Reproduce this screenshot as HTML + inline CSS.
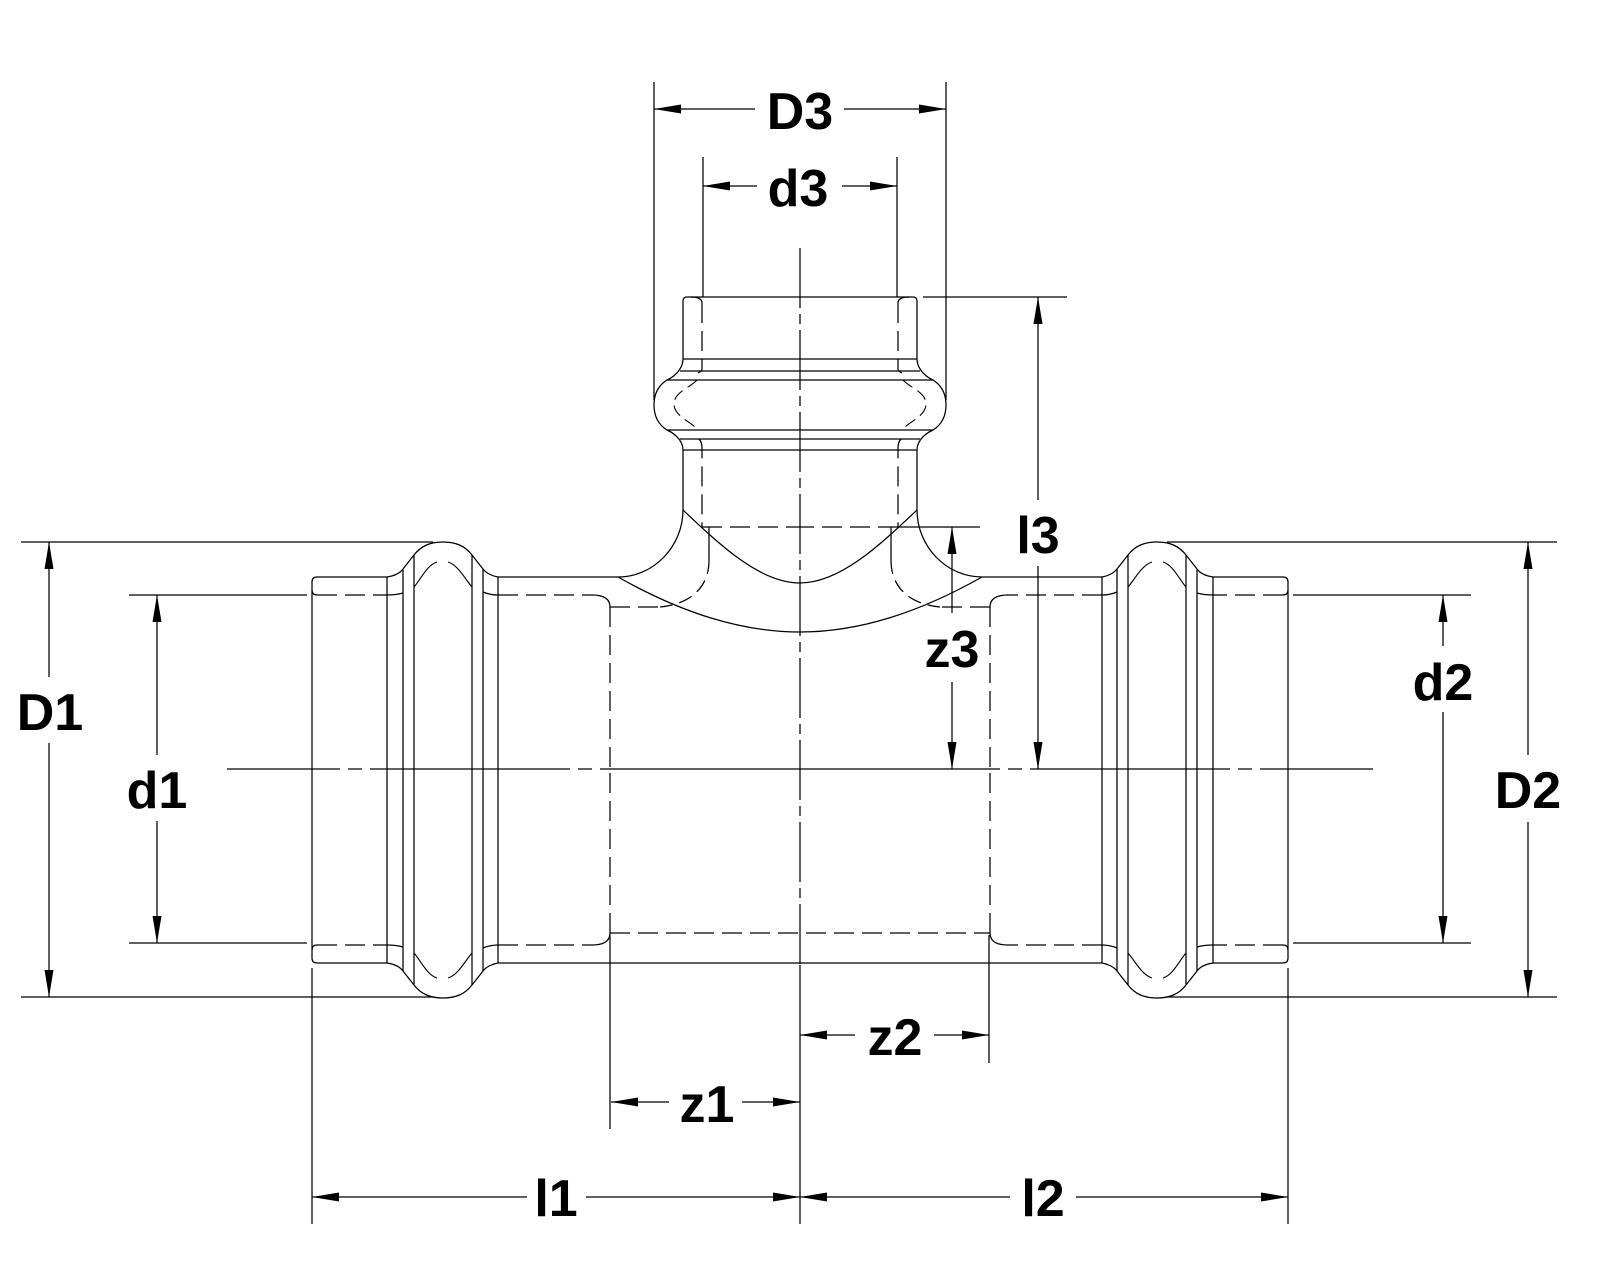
<!DOCTYPE html>
<html>
<head>
<meta charset="utf-8">
<style>
  html,body{margin:0;padding:0;background:#fff;}
  svg{display:block;}
  text{font-family:"Liberation Sans",Arial,sans-serif;font-weight:bold;font-size:52px;fill:#000;text-anchor:middle;}
</style>
</head>
<body>
<svg xmlns="http://www.w3.org/2000/svg" width="1600" height="1280" viewBox="0 0 1600 1280">
  <rect x="0" y="0" width="1600" height="1280" fill="#fff"/>
  <defs>
    <g id="q">
      <path d="M312,770 V582 Q312,577 317,577 H387"/>
      <path d="M312,590 Q312,595 317,595"/>
      <path d="M317,595 H387" stroke-dasharray="20 8"/>
      <path d="M387,595 Q396,595 403,593"/>
      <path d="M387,577 V770 M403,569 V770 M414,555 V770 M472,555 V770 M483,569 V770 M498,577 V770"/>
      <path d="M387,577 C394,576 400,573 403,569 L414,555 C421,546 430,542 443,542 C456,542 465,546 472,555 L483,569 C486,573 492,576 498,577"/>
      <path d="M414,587 C421,579 427,565 437,562 M448,562 C458,565 465,579 472,587" stroke-width="1.1"/>
      <path d="M483,592 Q490,595 498,595"/>
      <path d="M498,595 H592" stroke-dasharray="20 8"/>
      <path d="M592,595 Q610,595 610,607"/>
      <path d="M610,607 V770" stroke-dasharray="20 8"/>
    </g>
    <g id="h">
      <path d="M498,577 H618"/>
      <path d="M618,577 C654,577 683,546 683,510 V450"/>
      <path d="M683,450 C683,443 678,435 667,430 C659,425 654,417 654,405 C654,393 659,385 667,380 C678,375 683,366 683,359 V301 Q683,297 687,297 H800"/>
      <path d="M683,359 H800 M680,371 H800 M667,380 H800 M667,430 H800 M680,439 H800 M683,450 H800"/>
      <path d="M683,510 C720,545 760,583 800,583"/>
      <path d="M618,577 C680,612 740,632 800,632"/>
      <path d="M691,297 Q702,297 702,303"/>
      <path d="M702,303 V369 Q702,371 698,373" stroke-dasharray="20 8"/>
      <path d="M697,380 C690,388 674,392 674,404 C674,416 690,421 697,429" stroke-dasharray="12 6" stroke-width="1.1"/>
      <path d="M699,439 Q702,442 702,448 V527" stroke-dasharray="20 8"/>
      <path d="M702,527 H800" stroke-dasharray="20 8"/>
      <path d="M709,527 V560"/>
      <path d="M709,560 C709,588 690,604 660,607" stroke-dasharray="14 7"/>
      <path d="M610,607 H660" stroke-dasharray="20 8"/>
      <path d="M654,82 V400"/>
      <path d="M703,157 V297"/>
    </g>
  </defs>

  <g stroke="#000" stroke-width="1.25" fill="none">
    <use href="#q"/>
    <use href="#q" transform="translate(1600,0) scale(-1,1)"/>
    <use href="#q" transform="translate(0,1540) scale(1,-1)"/>
    <use href="#q" transform="translate(1600,1540) scale(-1,-1)"/>
    <use href="#h"/>
    <use href="#h" transform="translate(1600,0) scale(-1,1)"/>

    <path d="M498,963 H1102"/>
    <path d="M610,933 H990" stroke-dasharray="20 8"/>

    <path d="M800,769 H227" stroke-dasharray="200 8 14 8"/>
    <path d="M800,769 H1373" stroke-dasharray="200 8 14 8"/>
    <path d="M800,248 V965" stroke-dasharray="60 6 10 6"/>
    <path d="M800,965 V1224"/>

    <path d="M21,542 H433 M21,997 H433 M1167,542 H1557 M1167,997 H1557"/>
    <path d="M129,595 H307 M129,943 H307 M1293,595 H1471 M1293,943 H1471"/>
    <path d="M923,297 H1067"/>
    <path d="M897,527 H980"/>
    <path d="M312,968 V1224 M1288,968 V1224"/>
    <path d="M610,935 V1129 M989,935 V1063"/>

    <path d="M654,109 H755 M844,109 H946"/>
    <path d="M703,186 H757 M842,186 H897"/>
    <path d="M49,542 V677 M49,743 V997"/>
    <path d="M157,595 V755 M157,821 V943"/>
    <path d="M1528,542 V755 M1528,822 V997"/>
    <path d="M1443,595 V646 M1443,712 V943"/>
    <path d="M1038,297 V500 M1038,566 V769"/>
    <path d="M952,527 V613 M952,682 V769"/>
    <path d="M611,1102 H669 M742,1102 H800"/>
    <path d="M800,1035 H855 M934,1035 H989"/>
    <path d="M312,1197 H527 M586,1197 H800"/>
    <path d="M800,1197 H1010 M1076,1197 H1288"/>
  </g>

  <g fill="#000" stroke="none">
    <polygon points="654,109 681,104.5 681,113.5"/>
    <polygon points="946,109 919,104.5 919,113.5"/>
    <polygon points="703,186 730,181.5 730,190.5"/>
    <polygon points="897,186 870,181.5 870,190.5"/>
    <polygon points="49,542 44.5,569 53.5,569"/>
    <polygon points="49,997 44.5,970 53.5,970"/>
    <polygon points="157,595 152.5,622 161.5,622"/>
    <polygon points="157,943 152.5,916 161.5,916"/>
    <polygon points="1528,542 1523.5,569 1532.5,569"/>
    <polygon points="1528,997 1523.5,970 1532.5,970"/>
    <polygon points="1443,595 1438.5,622 1447.5,622"/>
    <polygon points="1443,943 1438.5,916 1447.5,916"/>
    <polygon points="1038,297 1033.5,324 1042.5,324"/>
    <polygon points="1038,769 1033.5,742 1042.5,742"/>
    <polygon points="952,527 947.5,554 956.5,554"/>
    <polygon points="952,769 947.5,742 956.5,742"/>
    <polygon points="611,1102 638,1097.5 638,1106.5"/>
    <polygon points="800,1102 773,1097.5 773,1106.5"/>
    <polygon points="800,1035 827,1030.5 827,1039.5"/>
    <polygon points="989,1035 962,1030.5 962,1039.5"/>
    <polygon points="312,1197 339,1192.5 339,1201.5"/>
    <polygon points="800,1197 773,1192.5 773,1201.5"/>
    <polygon points="800,1197 827,1192.5 827,1201.5"/>
    <polygon points="1288,1197 1261,1192.5 1261,1201.5"/>
  </g>

  <text x="800" y="129">D3</text>
  <text x="798" y="206">d3</text>
  <text x="50" y="730">D1</text>
  <text x="157" y="808">d1</text>
  <text x="1528" y="808">D2</text>
  <text x="1443" y="700">d2</text>
  <text x="1038" y="553">l3</text>
  <text x="952" y="667">z3</text>
  <text x="707" y="1122">z1</text>
  <text x="895" y="1055">z2</text>
  <text x="556" y="1216">l1</text>
  <text x="1043" y="1216">l2</text>
</svg>
</body>
</html>
